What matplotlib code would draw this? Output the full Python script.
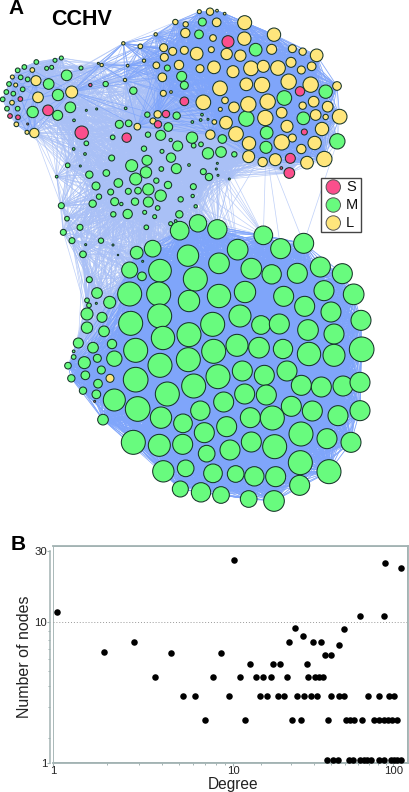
import numpy as np
import matplotlib
matplotlib.use('Agg')
import matplotlib.pyplot as plt
from matplotlib.collections import LineCollection
from matplotlib.patches import Circle, Rectangle
from matplotlib.scale import FuncScale

plt.rcParams['font.family'] = ['Liberation Sans', 'DejaVu Sans']

PINK = '#fb4f8c'
GREEN = '#68fb7e'
YELLOW = '#ffe67c'
NODE_EDGE = '#17352a'
EDGE_LIGHT = '#a9c0f6'
EDGE_DENSE = '#7fa5fb'
FRAME = '#a3b3b3'

# panel A nodes: (x, y, radius) in thirds of a pixel, measured from each region's origin
pink_nw = [(245, 398, 20), (144, 331, 16), (380, 413, 14), (553, 304, 13), (498, 342, 11), (474, 373, 11),
           (61, 297, 7), (30, 348, 7), (54, 352, 7), (271, 255, 5), (83, 372, 3)]
pink_ne = [(69, 125, 18), (285, 274, 14), (298, 396, 9), (256, 475, 15), (253, 519, 16), (229, 504, 4)]
pink_sw = [(134, 124, 3)]

yellow_nw = [(598, 35, 6), (526, 66, 8), (557, 73, 8), (556, 99, 14), (467, 103, 5), (370, 130, 5), (421, 139, 7),
             (491, 143, 12), (518, 154, 12), (553, 151, 12), (590, 161, 19), (493, 172, 12), (432, 182, 5),
             (469, 196, 10), (537, 195, 14), (600, 206, 12), (383, 197, 4), (487, 232, 13), (375, 240, 5),
             (295, 190, 3), (305, 195, 5), (108, 242, 15), (97, 210, 7), (47, 255, 6), (37, 231, 6), (36, 308, 7),
             (114, 292, 16), (215, 276, 18), (610, 307, 22), (490, 280, 9), (513, 276, 4), (473, 343, 11),
             (459, 363, 9), (412, 380, 10), (49, 373, 7), (81, 397, 6), (103, 399, 14)]
yellow_ne = [(15, 35, 11), (36, 32, 4), (59, 41, 4), (35, 67, 13), (119, 68, 21), (24, 114, 10), (118, 116, 20),
             (207, 104, 20), (19, 149, 9), (65, 162, 17), (106, 167, 17), (200, 148, 15), (262, 146, 12),
             (293, 155, 11), (335, 166, 19), (27, 202, 19), (84, 215, 18), (138, 205, 22), (175, 199, 18),
             (219, 204, 22), (258, 187, 15), (289, 210, 12), (320, 199, 13), (45, 265, 22), (124, 253, 19),
             (171, 255, 23), (251, 245, 23), (317, 254, 23), (396, 258, 13), (60, 301, 10), (87, 322, 16),
             (130, 313, 23), (188, 305, 23), (230, 338, 16), (46, 328, 6), (293, 317, 11), (326, 305, 16),
             (368, 320, 16), (28, 366, 7), (63, 368, 19), (181, 354, 23), (332, 345, 16), (362, 351, 8),
             (404, 350, 22), (246, 379, 18), (16, 404, 14), (93, 402, 22), (351, 387, 20), (262, 414, 12),
             (132, 430, 20), (230, 427, 23), (329, 429, 20), (289, 447, 14), (131, 470, 18), (173, 486, 14),
             (211, 479, 18), (306, 488, 19), (358, 477, 23)]
yellow_sw = [(180, 55, 12)]

green_nw = [(607, 66, 12), (597, 103, 13), (502, 204, 9), (545, 229, 15), (553, 256, 12), (109, 186, 7), (165, 181, 6),
            (184, 174, 6), (140, 205, 6), (155, 202, 6), (73, 201, 7), (53, 211, 7), (62, 232, 7), (83, 238, 7),
            (27, 252, 7), (68, 268, 7), (19, 276, 7), (40, 281, 7), (8, 298, 7), (53, 326, 7), (21, 326, 7),
            (200, 226, 16), (146, 252, 16), (174, 285, 17), (211, 322, 16), (98, 336, 17), (173, 346, 15),
            (243, 204, 6), (317, 252, 8), (400, 272, 11), (259, 331, 3), (290, 327, 3), (377, 325, 4), (222, 361, 4),
            (442, 344, 8), (530, 347, 11), (577, 366, 4), (602, 360, 4), (606, 344, 4), (358, 373, 12), (386, 370, 10),
            (338, 412, 7), (444, 404, 8), (482, 406, 15), (505, 381, 13), (576, 413, 17), (533, 438, 15), (512, 420, 5),
            (603, 433, 7), (581, 437, 7), (259, 430, 7), (221, 447, 4), (255, 462, 4), (335, 474, 9), (432, 446, 8),
            (486, 454, 6), (513, 473, 14), (441, 481, 15), (203, 496, 7), (241, 498, 3), (170, 530, 4), (268, 524, 11),
            (319, 519, 10), (395, 497, 18), (529, 506, 15), (484, 507, 7), (567, 495, 4), (610, 515, 9), (288, 558, 12),
            (355, 549, 13), (407, 537, 18), (438, 517, 17), (469, 542, 8), (504, 555, 11), (332, 576, 9), (385, 574, 9),
            (297, 590, 8), (414, 572, 10), (445, 568, 17), (482, 587, 17), (580, 560, 9), (578, 588, 5), (278, 611, 11),
            (344, 605, 12), (364, 612, 5), (405, 605, 11), (445, 606, 15), (542, 598, 8), (587, 619, 5), (473, 624, 7),
            (184, 617, 9)]
green_ne = [(152, 149, 19), (238, 294, 22), (362, 275, 20), (124, 356, 23), (295, 355, 19), (185, 398, 19), (52, 417, 13),
            (397, 424, 23), (183, 442, 18), (48, 456, 16), (9, 460, 17), (88, 463, 8), (12, 531, 11), (37, 490, 3),
            (34, 507, 3), (39, 526, 3), (73, 537, 3), (9, 358, 3)]
green_mid_w = [(51, 26, 7), (90, 52, 9), (40, 67, 9), (66, 92, 9), (107, 104, 3), (153, 92, 8), (189, 105, 3), (99, 133, 10),
               (204, 135, 2), (190, 13, 8), (233, 12, 14), (284, 7, 6), (314, 20, 6), (289, 52, 7), (388, 13, 11),
               (362, 41, 6), (377, 33, 4), (278, 154, 3), (276, 199, 13), (118, 209, 9), (141, 249, 16), (179, 277, 18),
               (111, 271, 7), (139, 280, 3), (117, 286, 7), (111, 312, 18), (156, 322, 15), (111, 353, 17), (162, 364, 16),
               (85, 399, 15), (186, 402, 14), (129, 413, 16), (71, 424, 4), (71, 441, 7), (142, 445, 12)]
green_big_w = [(389, 62, 28), (444, 40, 26), (502, 58, 29), (260, 128, 19), (308, 116, 25), (414, 137, 32), (507, 160, 31),
               (239, 180, 24), (330, 182, 34), (436, 207, 36), (239, 252, 36), (326, 252, 36), (507, 258, 35), (417, 273, 32),
               (242, 340, 36), (329, 318, 36), (488, 343, 36), (417, 374, 36), (339, 384, 35), (257, 421, 36), (491, 424, 36),
               (415, 449, 36), (193, 446, 23), (103, 458, 18), (54, 467, 10), (330, 466, 36)]
green_big_e = [(130, 76, 28), (53, 119, 31), (182, 116, 30), (251, 100, 30), (94, 176, 31), (155, 193, 29), (232, 190, 30),
               (301, 171, 30), (367, 191, 30), (75, 246, 32), (312, 242, 30), (401, 253, 31), (191, 259, 30), (254, 289, 30),
               (333, 306, 30), (423, 331, 30), (60, 318, 33), (123, 345, 28), (178, 342, 30), (264, 360, 31), (342, 372, 30),
               (51, 406, 33), (117, 413, 31), (189, 417, 29), (267, 432, 35), (342, 436, 33), (425, 418, 37)]
green_low_w = [(154, 30, 12), (106, 46, 13), (64, 55, 11), (257, 59, 37), (144, 71, 13), (99, 92, 11), (139, 103, 13),
               (504, 50, 36), (431, 78, 36), (352, 102, 36), (193, 120, 33), (263, 147, 37), (521, 126, 30), (333, 173, 32),
               (451, 152, 29), (159, 179, 16), (399, 190, 28), (463, 218, 30), (530, 200, 30), (250, 247, 36), (328, 256, 33),
               (398, 253, 30), (470, 281, 25), (540, 270, 30), (340, 334, 32), (407, 325, 25), (489, 340, 28), (391, 387, 24),
               (453, 397, 29), (513, 405, 25)]
green_low_e = [(67, 33, 30), (133, 46, 30), (201, 33, 30), (244, 76, 30), (304, 81, 30), (369, 78, 30), (420, 67, 30),
               (74, 102, 30), (139, 105, 30), (214, 139, 30), (277, 153, 30), (354, 167, 30), (420, 152, 30), (91, 173, 30),
               (157, 174, 36), (243, 222, 36), (321, 236, 30), (393, 247, 30), (94, 246, 30), (164, 260, 36), (241, 308, 36),
               (327, 335, 36), (47, 342, 25), (103, 349, 29), (167, 350, 30), (239, 376, 30), (86, 417, 25), (162, 423, 31)]

# panel B, degree and number of nodes
degree = [1.05, 1.91, 2.80, 3.69, 4.50, 5.27, 6.13, 6.96, 7.68, 8.54, 9.42, 10.1,
          14.6, 16.3, 18.9, 20.7, 24.9, 27.6, 30.4, 33.4, 40.8, 46.0, 48.9, 69.3, 81.5, 93.5, 101.4,
          11.9, 23.3, 26.3, 38.9, 50.6, 53.3, 57.0, 63.9, 75.9, 80.7, 86.7, 91.8, 97.2, 104.9,
          11.05, 13.8, 15.4, 17.2, 21.6, 29.4, 32.2, 34.2, 36.4,
          12.8, 17.6, 19.7, 28.8,
          38.2, 42.0, 44.9, 52.8, 55.9, 62.1, 65.1, 68.3, 72.3, 80.7, 86.7, 96.2, 101, 105.9, 111,
          22.4, 24.4, 27.1, 31.6, 35.4, 37.3, 40.8, 45.8, 49.2, 61.5, 87.1, 87.9, 112]
n_nodes = [11.7, 6.1, 7.28, 4.1, 6.04, 2.97, 2.97, 2.01, 4.1, 6.02, 2.97, 26.0,
           2.97, 2.97, 2.97, 2.97, 2.97, 2.97, 2.97, 2.97, 2.97, 2.97, 2.97, 2.97, 2.97, 2.97, 2.97,
           2.01, 2.01, 2.01, 2.01, 2.01, 2.01, 2.01, 2.01, 2.01, 2.01, 2.01, 2.01, 2.01, 2.01,
           4.1, 4.1, 4.1, 4.1, 4.1, 4.1, 4.1, 4.1, 4.1,
           5.04, 5.04, 5.04, 5.04,
           1.05, 1.05, 1.05, 1.05, 1.05, 1.05, 1.05, 1.05, 1.05, 1.05, 1.05, 1.05, 1.05, 1.05, 1.05,
           7.28, 9.06, 7.98, 7.2, 7.2, 5.9, 5.9, 6.89, 8.92, 11.0, 11.0, 25.1, 23.0]

x_major = [1, 10, 100]
y_major = [1, 10, 30]
x_minor = [2, 3, 4, 5, 6, 7, 8, 9, 15, 23, 32, 41, 50, 60, 70, 80, 90]
y_minor = [1.5, 2.5, 3.5, 4.5, 5.5, 6.5, 7.5, 8.7]


def place(nodes, ox, oy):
    return [(ox + x / 3, oy + y / 3, r / 3) for x, y, r in nodes]


pink = place(pink_nw, 0, 0) + place(pink_ne, 205, 0) + place(pink_sw, 50, 360)
yellow = place(yellow_nw, 0, 0) + place(yellow_ne, 205, 0) + place(yellow_sw, 50, 360)
upper_green = place(green_nw, 0, 0) + place(green_ne, 205, 0) + place(green_mid_w, 50, 210)
big_green = (place(green_big_w, 50, 210) + place(green_big_e, 220, 210)
             + place(green_low_w, 50, 360) + place(green_low_e, 220, 360))


def links(nodes, reach, extra=8):
    segs = []
    for i, (x1, y1, r1) in enumerate(nodes):
        for x2, y2, r2 in nodes[i + 1:]:
            if np.hypot(x1 - x2, y1 - y2) < reach * (r1 + r2) + extra:
                segs.append([(x1, y1), (x2, y2)])
    return segs


fig = plt.figure(figsize=(4.10, 7.92), dpi=100)
net = fig.add_axes([0, 0, 1, 1])
net.set_xlim(0, 410)
net.set_ylim(792, 0)
net.axis('off')

upper = pink + yellow + upper_green
net.add_collection(LineCollection(links(upper, 8, 26), colors=EDGE_LIGHT, linewidths=0.5, alpha=0.75, zorder=1))
net.add_collection(LineCollection(links(upper_green + big_green, 5, 24), colors=EDGE_LIGHT, linewidths=0.5, alpha=0.75, zorder=1))
net.add_collection(LineCollection(links(big_green, 12), colors=EDGE_DENSE, linewidths=0.5, zorder=1.1))
net.add_collection(LineCollection(links(yellow, 9, 10), colors=EDGE_DENSE, linewidths=0.5, alpha=0.85, zorder=1.1))

for group, color in [(big_green, GREEN), (upper_green, GREEN), (yellow, YELLOW), (pink, PINK)]:
    for x, y, r in group:
        net.add_patch(Circle((x, y), r, facecolor=color, edgecolor=NODE_EDGE, linewidth=0.75, zorder=2))

# size legend
net.add_patch(Rectangle((320.7, 178.3), 40.6, 54, facecolor='white', edgecolor='#444444', linewidth=1, zorder=3))
for y, color, label in [(187, PINK, 'S'), (205, GREEN, 'M'), (223, YELLOW, 'L')]:
    net.add_patch(Circle((333.3, y), 7.2, facecolor=color, edgecolor='#555555', linewidth=0.7, zorder=4))
    net.text(346, y, label, fontsize=10.5, ha='left', va='center', color='#111111', zorder=4)

net.text(8, 9, 'A', fontsize=15, fontweight='bold', ha='left', va='center')
net.text(51.5, 19.5, 'CCHV', fontsize=15.5, fontweight='bold', ha='left', va='center')
net.text(10.5, 544, 'B', fontsize=15, fontweight='bold', ha='left', va='center')


def piecewise(log_pts, pos_pts):
    def forward(v):
        return np.interp(np.log10(np.maximum(v, 1e-3)), log_pts, pos_pts)

    def inverse(p):
        return 10 ** np.interp(p, pos_pts, log_pts)

    return forward, inverse


ax = fig.add_axes([53 / 410, 1 - 762.7 / 792, 355.3 / 410, 217 / 792], facecolor='none')
ax.set_xscale(FuncScale(ax.xaxis, piecewise([-3, 0, 1, 2, 3], [-540, 0, 180, 340, 500])))
ax.set_yscale(FuncScale(ax.yaxis, piecewise([-3, 0, 1, 1.477, 3], [-420, 0, 140.4, 211.7, 438])))
ax.set_xlim(1, 123.7)
ax.set_ylim(1, 32.6)

ax.axhline(10, color='#999999', linewidth=0.7, linestyle=(0, (1, 2)))
ax.plot(degree, n_nodes, 'o', color='black', markersize=4.7, markeredgewidth=0, clip_on=False, zorder=3)

for side in ['top', 'right', 'bottom']:
    ax.spines[side].set_color(FRAME)
    ax.spines[side].set_linewidth(1.3)
ax.spines['left'].set_position(('outward', 1.8))
ax.spines['left'].set_color(FRAME)
ax.spines['left'].set_linewidth(1.1)
ax.spines['left'].set_bounds(1, 30)
ax.add_patch(Rectangle((0, 0), 1, 1, transform=ax.transAxes, fill=False, edgecolor=FRAME, linewidth=1.3))

ax.set_xticks(x_major, [str(v) for v in x_major])
ax.set_yticks(y_major, [str(v) for v in y_major])
ax.set_xticks(x_minor, minor=True, labels=[])
ax.set_yticks(y_minor, minor=True, labels=[])
ax.tick_params(which='major', color=FRAME, length=2.2, width=0.8, labelsize=8.2, labelcolor='#222222', pad=0.3)
ax.tick_params(which='minor', color=FRAME, length=1.6, width=0.7)
ax.set_xlabel('Degree', fontsize=11.2, color='#222222')
ax.set_ylabel('Number of nodes', fontsize=11.5, color='#222222')
ax.xaxis.set_label_coords(0.508, -0.068)
ax.yaxis.set_label_coords(-0.06, 0.49)

fig.savefig('out.png', dpi=100)
